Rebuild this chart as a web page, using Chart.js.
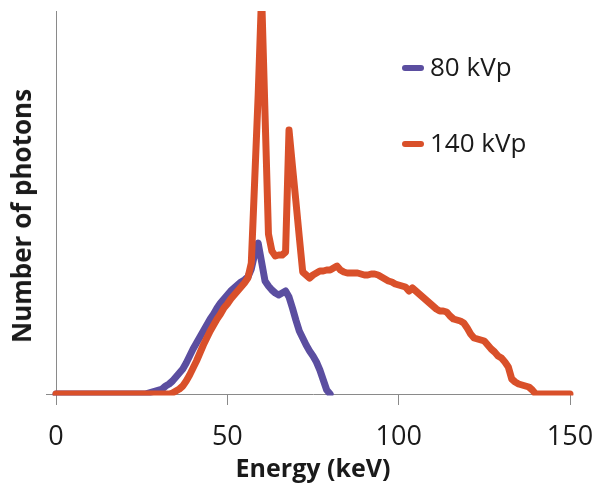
<!DOCTYPE html>
<html>
<head>
<meta charset="utf-8">
<script src="https://cdn.jsdelivr.net/npm/chart.js@4/dist/chart.umd.min.js"></script>
<style>
  html, body { margin: 0; padding: 0; background: #ffffff; }
  #wrap { position: relative; width: 602px; height: 491px; }
  #legend { position: absolute; left: 0; top: 0; width: 602px; height: 0; font-family: "Open Sans", sans-serif; font-size: 26px; color: #1a1a1a; }
  .swatch { position: absolute; width: 22px; height: 6px; border-radius: 3px; }
  .lbl { position: absolute; line-height: 1; white-space: nowrap; }
  #ytitle { position: absolute; left: 21px; top: 216px; transform: translate(-50%, -50%) rotate(-90deg);
            white-space: nowrap; font-family: "Open Sans", sans-serif; font-weight: bold; font-size: 26px; color: #1a1a1a; line-height: 1; }
</style>
</head>
<body>
<div id="wrap">
  <canvas id="c" width="602" height="491"></canvas>
  <div id="legend"></div>
  <div id="ytitle"></div>
</div>
<script>
// ---- data ----
const energyKeV = [0,1,2,3,4,5,6,7,8,9,10,11,12,13,14,15,16,17,18,19,20,21,22,23,24,25,26,27,28,29,30,31,32,33,34,35,36,37,38,39,40,41,42,43,44,45,46,47,48,49,50,51,52,53,54,55,56,57,58,59,60,61,62,63,64,65,66,67,68,69,70,71,72,73,74,75,76,77,78,79,80,81,82,83,84,85,86,87,88,89,90,91,92,93,94,95,96,97,98,99,100,101,102,103,104,105,106,107,108,109,110,111,112,113,114,115,116,117,118,119,120,121,122,123,124,125,126,127,128,129,130,131,132,133,134,135,136,137,138,139,140,141,142,143,144,145,146,147,148,149,150];

const seriesNames = ["80 kVp", "140 kVp"];
const xTitle = "Energy (keV)";
const yTitle = "Number of photons";

// 80 kVp photons, 0..80 keV
const photons80 = [0,0,0,0,0,0,0,0,0,0,0,0,0,0,0,0,0,0,0,0,0,0,0,0,0,0,0,
  1,2,3,4,5,8,10,13,17,21,25,31,38,45,51,57,63,69,75,80,86,91,95,99,103,106,109,112,114,117,125,140,151,132,113,108,104,101,99,101,103,97,86,74,63,56,49,43,38,32,24,14,4,0];

// 140 kVp photons, 0..150 keV
const photons140 = [0,0,0,0,0,0,0,0,0,0,0,0,0,0,0,0,0,0,0,0,0,0,0,0,0,0,0,0,0,0,0,0,0,0,
  1,3,5,8,13,19,26,33,41,49,56,63,69,75,80,86,90,95,99,103,107,111,116,131,215,299,400,280,160,143,138,139,139,142,264,228,193,157,122,119,116,119,121,123,123,124,124,126,128,124,122,121,121,121,121,120,119,119,120,120,119,117,115,113,112,110,109,108,107,103,106,103,100,97,94,91,88,85,83,83,82,78,75,74,73,71,66,60,56,55,54,53,49,45,42,38,36,32,27,15,12,10,9,8,7,4,0,
  0,0,0,0,0,0,0,0,0,0];

const xTicks = [0, 50, 100, 150];
const colors = ["#5B4EA0", "#D9502A"];

function pts(vals) { return vals.map((v, i) => ({ x: energyKeV[i], y: v })); }

const gray = "#8a8a8a";

const chart = new Chart(document.getElementById("c"), {
  type: "line",
  data: {
    datasets: [
      { label: seriesNames[0], data: pts(photons80), borderColor: colors[0], backgroundColor: colors[0],
        borderWidth: 7, pointRadius: 0, tension: 0, borderJoinStyle: "round", borderCapStyle: "round",
        order: 1, clip: { left: 10, right: 10, top: 0, bottom: 1.5 } },
      { label: seriesNames[1], data: pts(photons140), borderColor: colors[1], backgroundColor: colors[1],
        borderWidth: 7, pointRadius: 0, tension: 0, borderJoinStyle: "round", borderCapStyle: "round",
        order: 0, clip: { left: 10, right: 10, top: 0, bottom: 1.5 } }
    ]
  },
  options: {
    responsive: false,
    animation: false,
    devicePixelRatio: 1,
    layout: { padding: { top: 11, right: 32, left: 0, bottom: 0 } },
    plugins: { legend: { display: false }, tooltip: { enabled: false } },
    scales: {
      x: {
        type: "linear", min: 0, max: 150,
        afterBuildTicks: (s) => { s.ticks = xTicks.map(v => ({ value: v })); },
        afterFit: (s) => { s.height = 97; s.paddingLeft = 0; s.paddingRight = 0; },
        grid: { drawOnChartArea: false, drawTicks: true, tickLength: 11, color: gray, lineWidth: 1 },
        border: { display: true, color: gray, width: 1 },
        ticks: { color: "#1a1a1a", font: { family: "Open Sans", size: 27 }, padding: 16, maxRotation: 0 },
        title: { display: true, text: xTitle, color: "#1a1a1a",
                 font: { family: "Open Sans", size: 25, weight: "bold" }, padding: { top: 0, bottom: 6 } }
      },
      y: {
        type: "linear", min: 0, max: 383,
        afterBuildTicks: (s) => { s.ticks = [{ value: 0 }]; },
        afterFit: (s) => { s.width = 56; },
        grid: { drawOnChartArea: false, drawTicks: true, tickLength: 10, color: gray, lineWidth: 1 },
        border: { display: true, color: gray, width: 1 },
        ticks: { display: false },
        title: { display: false }
      }
    }
  }
});

document.getElementById("ytitle").textContent = yTitle;

// HTML legend
const legend = document.getElementById("legend");
const legendY = [68, 144];
seriesNames.forEach((name, i) => {
  const sw = document.createElement("div");
  sw.className = "swatch";
  sw.style.left = "402px"; sw.style.top = (legendY[i] - 3) + "px";
  sw.style.background = colors[i];
  legend.appendChild(sw);
  const t = document.createElement("div");
  t.className = "lbl";
  t.textContent = name;
  t.style.left = "430px"; t.style.top = (legendY[i] - 15) + "px";
  legend.appendChild(t);
});
</script>
</body>
</html>
